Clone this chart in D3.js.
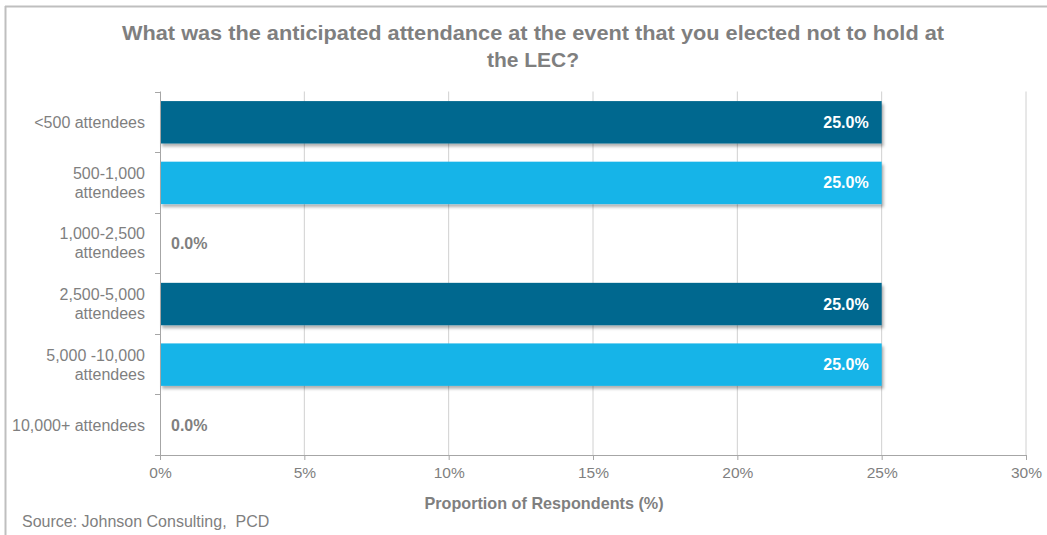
<!DOCTYPE html>
<html>
<head>
<meta charset="utf-8">
<script src="https://cdn.jsdelivr.net/npm/d3@7"></script>
<style>
  html, body { margin: 0; padding: 0; background: #fff; }
  svg { display: block; font-family: "Liberation Sans", Arial, sans-serif; }
</style>
</head>
<body>
<svg id="chart" width="1047" height="535"></svg>
<script>
const categories = [
  ["<500 attendees"],
  ["500-1,000", "attendees"],
  ["1,000-2,500", "attendees"],
  ["2,500-5,000", "attendees"],
  ["5,000 -10,000", "attendees"],
  ["10,000+ attendees"]
];
const values = [25.0, 25.0, 0.0, 25.0, 25.0, 0.0];
const barColors = ["#00688F", "#14B4E8", "#14B4E8", "#00688F", "#14B4E8", "#14B4E8"];
const xTicks = [0, 5, 10, 15, 20, 25, 30];
const titleLines = ["What was the anticipated attendance at the event that you elected not to hold at", "the LEC?"];
const xAxisTitle = "Proportion of Respondents (%)";
const sourceText = "Source: Johnson Consulting,  PCD";

const svg = d3.select("#chart");
const grey = "#7F7F7F";

// frame (top + left)
svg.append("line").attr("x1", 5).attr("x2", 1047).attr("y1", 6.5).attr("y2", 6.5)
  .attr("stroke", "#BFBFBF").attr("stroke-width", 2);
svg.append("line").attr("x1", 5.5).attr("x2", 5.5).attr("y1", 6).attr("y2", 535)
  .attr("stroke", "#BFBFBF").attr("stroke-width", 2);

const defs = svg.append("defs");
const f = defs.append("filter").attr("id", "shadow").attr("x", "-5%").attr("y", "-20%").attr("width", "115%").attr("height", "160%");
f.append("feDropShadow").attr("dx", 2).attr("dy", 3).attr("stdDeviation", 1.8)
  .attr("flood-color", "#000").attr("flood-opacity", 0.3);

const x = d3.scaleLinear().domain([0, 30]).range([160, 1026]);
const y = d3.scaleBand().domain(d3.range(categories.length)).range([91.5, 455]).paddingInner(0.3).paddingOuter(0.15);
const step = y.step();

// gridlines
svg.append("g").selectAll("line").data(xTicks.filter(d => d > 0)).join("line")
  .attr("x1", d => x(d)).attr("x2", d => x(d)).attr("y1", 91.5).attr("y2", 455)
  .attr("stroke", "#D0D0D0").attr("stroke-width", 1);

// bars
svg.append("g").selectAll("rect").data(values).join("rect")
  .attr("x", x(0)).attr("y", (d, i) => y(i) + 0.5)
  .attr("width", d => x(d) - x(0)).attr("height", y.bandwidth())
  .attr("fill", (d, i) => barColors[i])
  .attr("filter", "url(#shadow)");

// x axis
const xAxis = svg.append("g").attr("transform", "translate(0,455)")
  .call(d3.axisBottom(x).tickValues(xTicks).tickFormat(d => d + "%").tickSize(5).tickSizeOuter(0));
xAxis.select(".domain").attr("stroke", "#A6A6A6").attr("d", "M155,0.5H1026");
xAxis.selectAll(".tick line").attr("stroke", "#A6A6A6");
xAxis.selectAll(".tick text").attr("fill", grey).attr("font-size", 15.5)
  .attr("font-family", "Liberation Sans, Arial, sans-serif").attr("dy", "0.95em");

// y axis line + boundary ticks
svg.append("line").attr("x1", 160.5).attr("x2", 160.5).attr("y1", 91.5).attr("y2", 455)
  .attr("stroke", "#A6A6A6");
svg.append("g").selectAll("line").data(d3.range(categories.length)).join("line")
  .attr("x1", 155).attr("x2", 160.5)
  .attr("y1", i => Math.round(91.5 + i * step) + 0.5).attr("y2", i => Math.round(91.5 + i * step) + 0.5)
  .attr("stroke", "#A6A6A6");

// category labels
const catG = svg.append("g");
categories.forEach((lines, i) => {
  const cy = y(i) + y.bandwidth() / 2;
  const lh = 19;
  const t = catG.append("text").attr("text-anchor", "end").attr("fill", grey).attr("font-size", 16);
  lines.forEach((ln, k) => {
    t.append("tspan").attr("x", 145)
      .attr("y", cy + (k - (lines.length - 1) / 2) * lh + 6).text(ln);
  });
});

// value labels
svg.append("g").selectAll("text").data(values).join("text")
  .attr("x", d => d > 0 ? x(d) - 13 : x(0) + 11)
  .attr("y", (d, i) => y(i) + y.bandwidth() / 2 + 6)
  .attr("text-anchor", d => d > 0 ? "end" : "start")
  .attr("fill", d => d > 0 ? "#FFFFFF" : grey)
  .attr("font-weight", "bold").attr("font-size", 16)
  .text(d => d.toFixed(1) + "%");

// title
titleLines.forEach((ln, k) => {
  const t = svg.append("text").attr("x", 533).attr("y", 40 + k * 27)
    .attr("text-anchor", "middle").attr("fill", grey).attr("font-weight", "bold")
    .attr("font-size", 21).text(ln);
  if (k === 0) t.attr("textLength", 822).attr("lengthAdjust", "spacingAndGlyphs");
});

// axis title
svg.append("text").attr("x", 544).attr("y", 509).attr("text-anchor", "middle")
  .attr("fill", grey).attr("font-weight", "bold").attr("font-size", 16.2).text(xAxisTitle);

// source
svg.append("text").attr("x", 22).attr("y", 527).attr("fill", grey).attr("font-size", 16)
  .attr("xml:space", "preserve").style("white-space", "pre").text(sourceText);
</script>
</body>
</html>
